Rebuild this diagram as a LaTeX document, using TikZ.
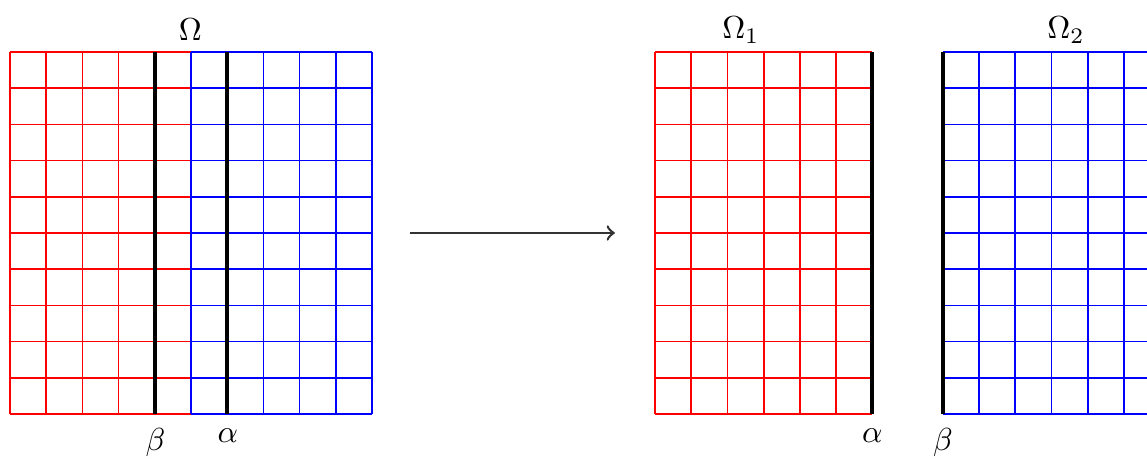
\documentclass[tikz,border=0pt]{standalone}
\begin{document}
\begin{tikzpicture}[x=0.4cm,y=0.4cm,
  redgrid/.style={draw=red,line width=0.55pt,step=0.4cm},
  bluegrid/.style={draw=blue,line width=0.55pt,step=0.4cm},
  cut/.style={draw=black,line width=1.2pt},
  lbl/.style={inner sep=3.33pt}]
\useasboundingbox (-0.2762,-1.2431) rectangle (31.409,11.436);
\clip (-0.2762,-1.2431) rectangle (31.409,11.436);
% left domain
\draw[redgrid] (0,0) grid (5,10);
\draw[bluegrid] (5,0) grid (10,10);
\draw[cut] (4,0) -- (4,10);
\draw[cut] (6,0) -- (6,10);
\node[lbl,anchor=south] (om) at (4.98,10.0) {$\Omega$};
\node[lbl,anchor=north] (beta) at (4.02,-0.1) {$\beta$};
\node[lbl,anchor=north] (alpha) at (6.02,-0.1) {$\alpha$};
% arrow
\coordinate (a1) at (11.05,5.0);
\coordinate (a2) at (16.71,5.0);
\draw[->,line width=0.8pt,black!80] (a1) -- (a2);
% Omega_1
\begin{scope}[shift={(17.82,0)}]
\draw[redgrid] (0,0) grid (6,10);
\draw[cut] (6,0) -- (6,10);
\node[lbl,anchor=north] (alpha2) at (6,-0.1) {$\alpha$};
\end{scope}
\node[lbl,anchor=south] (om1) at (20.19,9.93) {$\Omega_1$};
% Omega_2
\begin{scope}[shift={(25.77,0)}]
\draw[bluegrid] (0,0) grid (6,10);
\draw[cut] (0,0) -- (0,10);
\node[lbl,anchor=north] (beta2) at (0,-0.1) {$\beta$};
\end{scope}
\node[lbl,anchor=south] (om2) at (29.17,9.93) {$\Omega_2$};
\end{tikzpicture}
\end{document}
